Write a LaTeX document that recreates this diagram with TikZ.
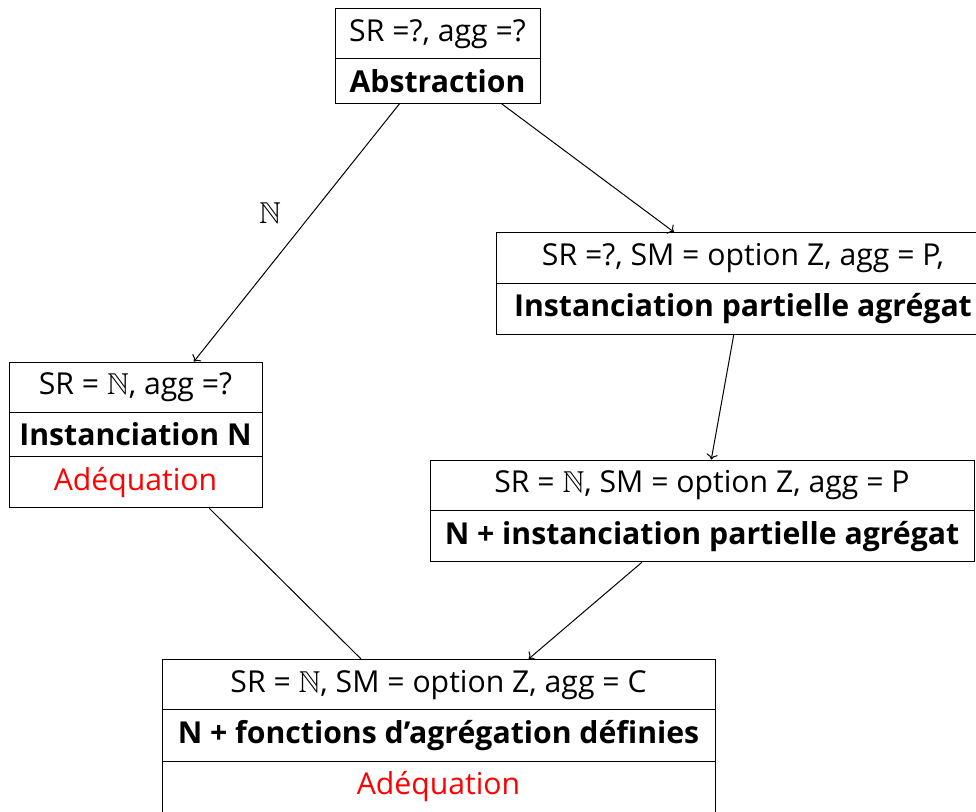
\documentclass[tikz,border=0pt]{standalone}
\usepackage{amssymb}
\usepackage{fontspec}
\setmainfont{Open Sans}
\usepackage{tikz}
\usetikzlibrary{shapes.multipart}
\usetikzlibrary{arrows.meta}
\begin{document}
\begin{tikzpicture}[x=0.5pt,y=-0.5pt,line width=0.5pt,
    etat/.style={draw,rectangle split,rectangle split parts=#1,inner ysep=5pt,inner xsep=2pt},
    every node/.style={font=\fontsize{15.1}{18}\selectfont}]
          \useasboundingbox (0,0) rectangle (976,812);
          %states
          \node[etat=2,minimum width=102.5pt] (abs) at (437.5,56)
             {SR =?, agg =?\nodepart{two}\textbf{Abstraction}};
          \node[etat=2,minimum width=247pt] (ipa) at (743,283.5)
             {SR =?, SM = option Z, agg = P,\nodepart{two}\textbf{Instanciation partielle agrégat}};
          \node[etat=3,minimum width=126.5pt] (inN) at (135.5,435)
             {SR = $\mathbb{N}$, agg =?\nodepart{two}\textbf{Instanciation N}\nodepart{three}\textcolor{red}{Adéquation}};
          \node[etat=2,minimum width=272pt] (nipa) at (702,511)
             {SR = $\mathbb{N}$, SM = option Z, agg = P\nodepart{two}\textbf{N + instanciation partielle agrégat}};
          \node[etat=3,minimum width=276.5pt] (fad) at (438.5,736)
             {SR = $\mathbb{N}$, SM = option Z, agg = C\nodepart{two}\textbf{N + fonctions d’agrégation définies}\nodepart{three}\textcolor{red}{Adéquation}};
          %transitions
          \draw[->] (abs) -- (inN);
          \draw[->] (abs) -- (ipa);
          \draw[->] (ipa) -- (nipa);
          \draw (inN) -- (fad);
          \draw[->] (nipa) -- (fad);
          \node (lN) at (270,213) {$\mathbb{N}$};
\end{tikzpicture}
\end{document}
